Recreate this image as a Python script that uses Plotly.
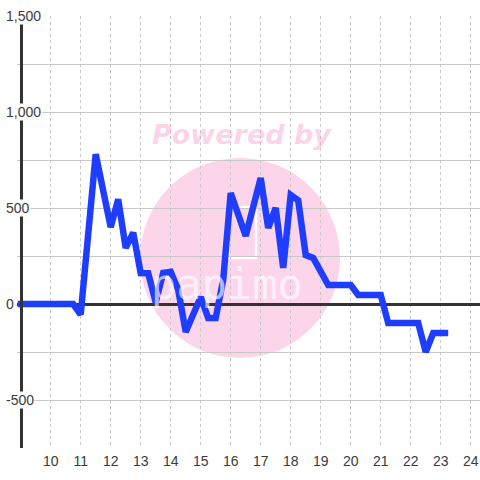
import plotly.graph_objects as go

# ---- data ----
hours = [8.9, 10.75, 11.0, 11.5, 12.0, 12.25, 12.5, 12.75, 13.0, 13.25, 13.5, 13.75,
         14.0, 14.25, 14.5, 15.0, 15.25, 15.5, 15.75, 16.0, 16.5, 17.0, 17.25, 17.5,
         17.75, 18.0, 18.25, 18.5, 18.75, 19.25, 20.0, 20.25, 21.0, 21.25, 22.25,
         22.5, 22.75, 23.25]
values = [0, 0, -55, 780, 400, 545, 292, 372, 161, 160, 10, 162,
          168, 75, -146, 36, -73, -73, 125, 578, 355, 656, 396, 500,
          188, 568, 540, 255, 240, 99, 99, 47, 47, -99, -99,
          -250, -151, -151]

x_ticks = list(range(10, 25))
y_tick_vals = [-500, 0, 500, 1000, 1500]
y_tick_text = ["-500", "0", "500", "1,000", "1,500"]

L, R, T, B = 17, 0, 16, 32
W = H = 480
pw, ph = W - L - R, H - T - B

def px_x(p):
    return (p - L) / pw

def px_y(p):
    return (H - B - p) / ph

fig = go.Figure()
fig.add_trace(go.Scatter(
    x=hours, y=values, mode="lines",
    line=dict(color="#1f3dff", width=6.5),
    hoverinfo="skip", showlegend=False,
))

pink = "rgb(252,213,234)"
shapes = [
    dict(type="circle", xref="paper", yref="paper",
         x0=px_x(140), x1=px_x(340), y0=px_y(358), y1=px_y(158),
         fillcolor=pink, line=dict(width=0), layer="below"),
    dict(type="rect", xref="paper", yref="paper",
         x0=px_x(229), x1=px_x(256), y0=px_y(258), y1=px_y(207),
         line=dict(color="white", width=2.5), layer="below"),
]

annotations = [
    dict(text="<b><i>Powered by</i></b>", xref="paper", yref="paper",
         x=px_x(242), y=px_y(134), xanchor="center", yanchor="middle",
         showarrow=False,
         font=dict(family="DejaVu Sans", size=27, color="rgba(248,150,205,0.42)")),
    dict(text="papimo", xref="paper", yref="paper",
         x=px_x(227), y=px_y(284), xanchor="center", yanchor="middle",
         showarrow=False,
         font=dict(family="DejaVu Sans Mono", size=42, color="rgba(255,255,255,0.65)")),
]
for v, t in zip(y_tick_vals, y_tick_text):
    annotations.append(dict(
        text=t, xref="paper", yref="y", x=px_x(5), y=v,
        xanchor="left", yanchor="middle", showarrow=False,
        bgcolor="white", borderpad=0,
        font=dict(family="Liberation Sans", size=14, color="#3a3a3a"),
    ))

fig.update_layout(
    width=W, height=H,
    margin=dict(l=L, r=R, t=T, b=B, pad=0, autoexpand=False),
    paper_bgcolor="white", plot_bgcolor="white",
    shapes=shapes, annotations=annotations,
    xaxis=dict(
        range=[8.877, 24.31], tickmode="array", tickvals=x_ticks,
        ticktext=[str(v) for v in x_ticks],
        showgrid=True, gridcolor="#c8c8c8", griddash="dot", gridwidth=1,
        zeroline=False, showline=False, ticks="", ticklabelstandoff=3,
        tickfont=dict(family="Liberation Sans", size=14, color="#3a3a3a"),
        automargin=False, fixedrange=True,
    ),
    yaxis=dict(
        range=[-750, 1500], tickmode="array", tickvals=y_tick_vals,
        showticklabels=False, ticks="",
        showgrid=True, gridcolor="#c8c8c8", gridwidth=1,
        minor=dict(dtick=250, tick0=0, showgrid=True, gridcolor="#c8c8c8", gridwidth=1),
        zeroline=True, zerolinecolor="#333", zerolinewidth=2.5,
        showline=True, linecolor="#333", linewidth=3,
        anchor="free", position=px_x(20.5),
        automargin=False, fixedrange=True,
    ),
)

fig.write_html("out.html", config={"displayModeBar": False},
               post_script="document.body.style.margin='0';")
